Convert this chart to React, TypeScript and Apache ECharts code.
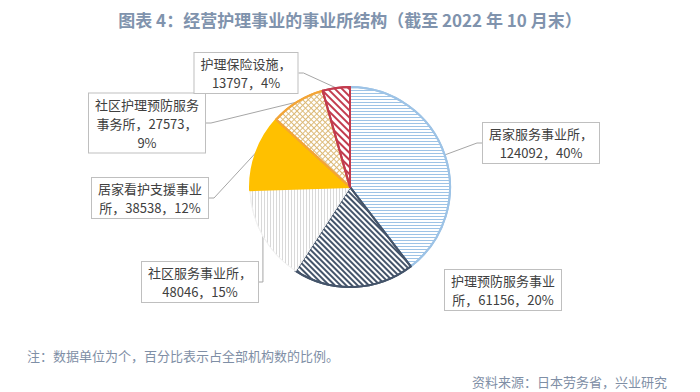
import React, { useEffect, useRef } from "react";
import * as echarts from "echarts";

const categories = [
  "居家服务事业所",
  "护理预防服务事业所",
  "社区服务事业所",
  "居家看护支援事业所",
  "社区护理预防服务事务所",
  "护理保险设施",
];
const values = [124092, 61156, 48046, 38538, 27573, 13797];

const titleText = "图表 4：经营护理事业的事业所结构（截至 2022 年 10 月末）";
const noteText = "注：数据单位为个，百分比表示占全部机构数的比例。";
const sourceText = "资料来源：日本劳务省，兴业研究";

// label box centres (layout only)
const labelPos = [
  { x: 541, y: 143, line: true },
  { x: 503, y: 290, line: false },
  { x: 200, y: 282, line: true },
  { x: 150, y: 198, line: true },
  { x: 147, y: 123, line: true },
  { x: 246, y: 73, line: true },
];

const FONT = '"Noto Sans CJK SC", "Noto Sans", sans-serif';

function wrap(text: string, maxUnits: number): string {
  const tokens = text.match(/[0-9A-Za-z%.]+|[^0-9A-Za-z%.]/g) || [];
  const lines: string[] = [];
  let cur = "";
  let w = 0;
  for (const t of tokens) {
    const tw = /^[0-9A-Za-z%.]+$/.test(t) ? t.length * 0.55 : 1;
    if (w + tw > maxUnits + 0.01 && cur) {
      lines.push(cur);
      cur = t;
      w = tw;
    } else {
      cur += t;
      w += tw;
    }
  }
  if (cur) lines.push(cur);
  return lines.join("\n");
}

const styles = [
  {
    color: "#ffffff",
    borderColor: "#9DC3E6",
    borderWidth: 2,
    decal: { symbol: "rect", symbolSize: 1, symbolKeepAspect: false, color: "#9DC3E6", dashArrayX: [10, 0], dashArrayY: [1, 2], rotation: 0 },
  },
  {
    color: "#ffffff",
    borderColor: "#44546A",
    borderWidth: 2,
    decal: { symbol: "rect", symbolSize: 1, symbolKeepAspect: false, color: "#44546A", dashArrayX: [10, 0], dashArrayY: [2, 2], rotation: Math.PI / 4 },
  },
  {
    color: "#ffffff",
    borderColor: "#F2F2F2",
    borderWidth: 1,
    decal: { symbol: "rect", symbolSize: 1, symbolKeepAspect: false, color: "#D9D9D9", dashArrayX: [1, 2], dashArrayY: [10, 0], rotation: 0 },
  },
  {
    color: "#FFC000",
    borderColor: "#FFC000",
    borderWidth: 2,
  },
  {
    color: "#ffffff",
    borderColor: "#F3A537",
    borderWidth: 2,
    decal: {
      symbol: "rect",
      symbolSize: 1,
      symbolKeepAspect: false,
      color: "#DDBB7A",
      dashArrayX: [[10, 0], [1, 3]],
      dashArrayY: [1, 0, 3, 0],
      rotation: Math.PI / 4,
    },
  },
  {
    color: "#ffffff",
    borderColor: "#C23B4E",
    borderWidth: 2,
    decal: { symbol: "rect", symbolSize: 1, symbolKeepAspect: false, color: "#C23B4E", dashArrayX: [10, 0], dashArrayY: [2, 3], rotation: Math.PI / 4 },
  },
];

export default function App() {
  const ref = useRef<HTMLDivElement>(null);
  useEffect(() => {
    if (!ref.current) return;
    const chart = echarts.init(ref.current, undefined, { renderer: "svg" });
    const data = categories.map((name, i) => ({
      name,
      value: values[i],
      itemStyle: styles[i],
      labelLine: { show: labelPos[i].line },
    }));
    chart.setOption({
      animation: false,
      backgroundColor: "#ffffff",
      title: [
        {
          text: titleText,
          left: "center",
          top: 6,
          textStyle: { fontFamily: FONT, fontSize: 17, fontWeight: "bold", color: "#8093AD" },
        },
        {
          text: noteText,
          left: 22,
          top: 344,
          textStyle: { fontFamily: FONT, fontSize: 13, fontWeight: "normal", color: "#7F8FA6" },
        },
        {
          text: sourceText,
          right: 28,
          top: 370,
          textStyle: { fontFamily: FONT, fontSize: 13, fontWeight: "normal", color: "#7F8FA6" },
        },
      ],
      series: [
        {
          type: "pie",
          center: [350, 187],
          radius: 100,
          startAngle: 90,
          clockwise: true,
          percentPrecision: 0,
          avoidLabelOverlap: false,
          silent: true,
          emphasis: { disabled: true },
          data,
          label: {
            show: true,
            position: "outside",
            formatter: (p: any) => wrap(`${p.name}，${p.value}，${p.percent}%`, 8),
            fontFamily: FONT,
            fontSize: 13,
            lineHeight: 19,
            color: "#404040",
            align: "center",
            backgroundColor: "#ffffff",
            borderColor: "#BFBFBF",
            borderWidth: 1,
            padding: [1, 6],
          },
          labelLine: {
            show: true,
            length: 10,
            length2: 5,
            lineStyle: { color: "#A6A6A6", width: 1 },
          },
          labelLayout: (params: any) => {
            const p = labelPos[params.dataIndex];
            return { x: p.x, y: p.y, align: "center", verticalAlign: "middle" };
          },
        },
      ],
    });
    return () => chart.dispose();
  }, []);
  return (
    <div
      ref={ref}
      style={{ position: "fixed", left: 0, top: 0, width: 700, height: 392 }}
    />
  );
}
